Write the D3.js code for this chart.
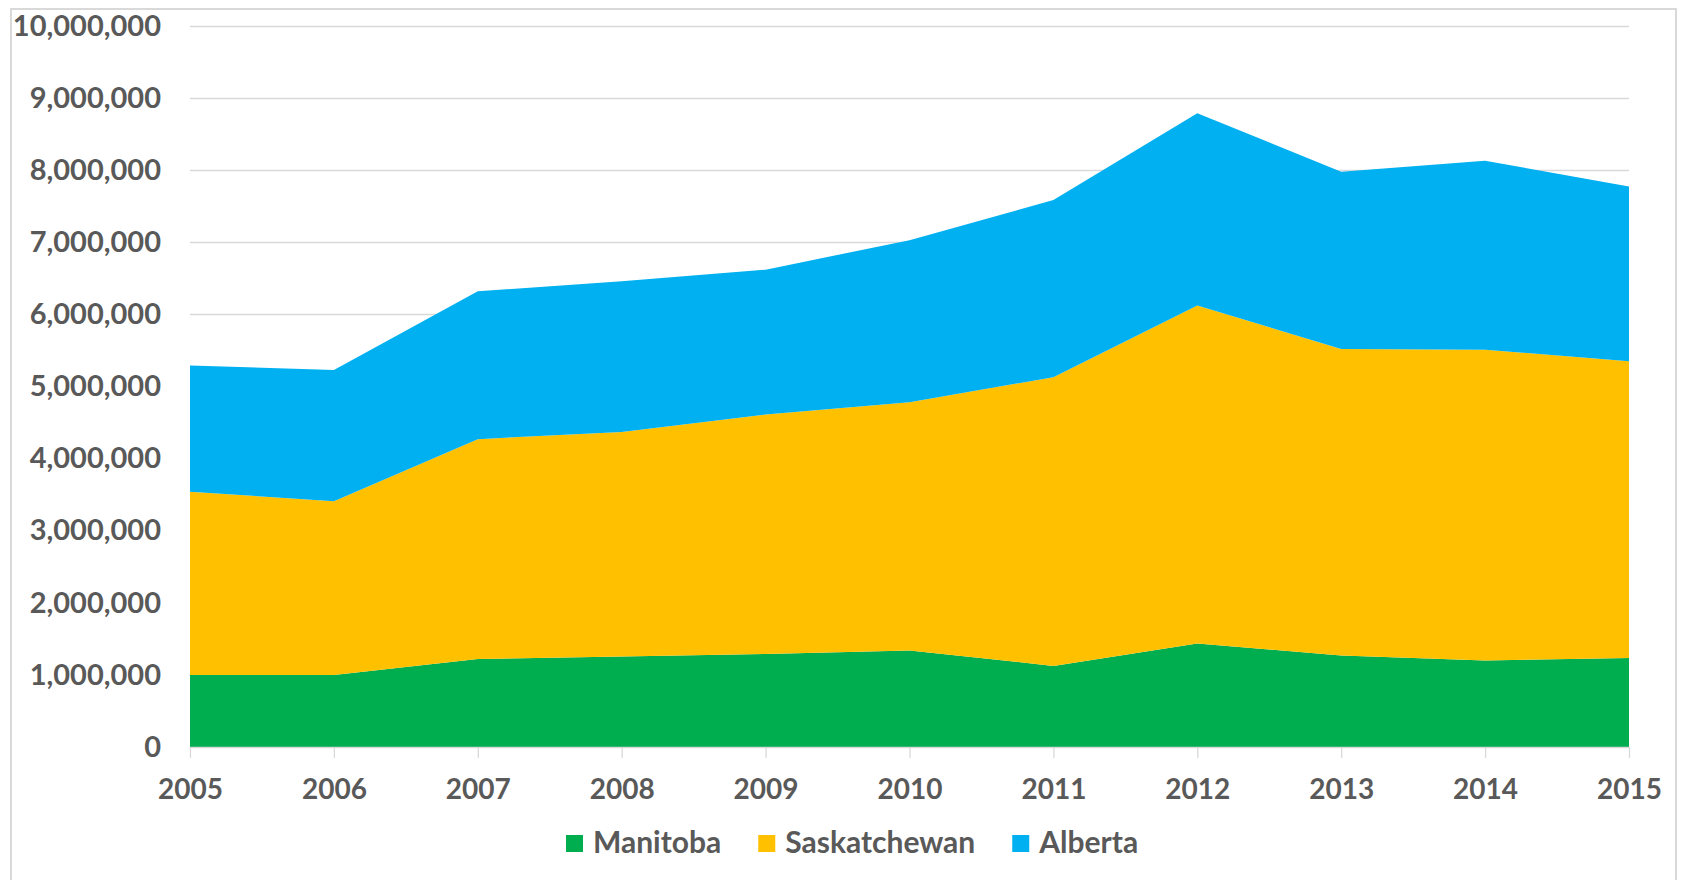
<!DOCTYPE html>
<html>
<head>
<meta charset="utf-8">
<script src="https://cdn.jsdelivr.net/npm/d3@7"></script>
<style>
  html, body { margin: 0; padding: 0; background: #fff; }
  svg { display: block; font-family: Lato, "Open Sans", sans-serif; }
</style>
</head>
<body>
<svg id="chart" width="1681" height="880"></svg>
<script>
  const years = [2005, 2006, 2007, 2008, 2009, 2010, 2011, 2012, 2013, 2014, 2015];
  const manitoba = [1000000, 1000000, 1220000, 1255000, 1290000, 1340000, 1125000, 1435000, 1270000, 1200000, 1235000];
  const saskatchewan = [2540000, 2410000, 3050000, 3115000, 3320000, 3440000, 4005000, 4690000, 4250000, 4310000, 4115000];
  const alberta = [1750000, 1820000, 2050000, 2090000, 2010000, 2250000, 2455000, 2665000, 2460000, 2620000, 2425000];
  const seriesNames = ["Manitoba", "Saskatchewan", "Alberta"];
  const seriesColors = ["#00AD4F", "#FFC000", "#00B0F0"];
  const yTicks = [0, 1000000, 2000000, 3000000, 4000000, 5000000, 6000000, 7000000, 8000000, 9000000, 10000000];

(function () {
  "use strict";

  const svg = d3.select("#chart");
  const H = 880;
  const plotLeft = 190, plotRight = 1629, plotTop = 26, plotBottom = 747;
  const textColor = "#595959";
  const gridColor = "#d9d9d9";
  const font = "Lato, 'Open Sans', sans-serif";

  // chart frame
  svg.append("path")
    .attr("d", `M11,${H} L11,9 L1676,9 L1676,${H}`)
    .attr("fill", "none")
    .attr("stroke", gridColor)
    .attr("stroke-width", 2);

  const x = d3.scaleLinear().domain([years[0], years[years.length - 1]]).range([plotLeft, plotRight]);
  const y = d3.scaleLinear().domain([0, 10000000]).range([plotBottom, plotTop]);

  const rows = years.map((yr, i) => ({
    year: yr,
    Manitoba: manitoba[i],
    Saskatchewan: saskatchewan[i],
    Alberta: alberta[i],
  }));
  const stacked = d3.stack().keys(seriesNames)(rows);

  // gridlines sit behind the areas
  svg.append("g")
    .selectAll("line")
    .data(yTicks.filter((t) => t > 0))
    .join("line")
    .attr("x1", plotLeft)
    .attr("x2", plotRight)
    .attr("y1", (d) => Math.round(y(d)) + 0.5)
    .attr("y2", (d) => Math.round(y(d)) + 0.5)
    .attr("stroke", gridColor)
    .attr("stroke-width", 1.3);

  const area = d3.area()
    .x((d) => x(d.data.year))
    .y0((d) => y(d[0]))
    .y1((d) => y(d[1]));

  svg.append("g")
    .selectAll("path")
    .data(stacked)
    .join("path")
    .attr("fill", (d, i) => seriesColors[i])
    .attr("d", area);

  // x axis
  const xAxis = d3.axisBottom(x)
    .tickValues(years)
    .tickFormat(d3.format("d"))
    .tickSizeInner(11)
    .tickSizeOuter(0)
    .tickPadding(21);
  const gx = svg.append("g")
    .attr("transform", `translate(0,${plotBottom})`)
    .call(xAxis);
  gx.select(".domain").attr("stroke", gridColor).attr("stroke-width", 1.3);
  gx.selectAll(".tick line").attr("stroke", gridColor).attr("stroke-width", 1.3);
  gx.selectAll(".tick text")
    .attr("fill", textColor)
    .attr("font-size", 28)
    .attr("font-weight", 700)
    .attr("font-family", font);

  // y axis
  const yAxis = d3.axisLeft(y)
    .tickValues(yTicks)
    .tickFormat(d3.format(","))
    .tickSize(0)
    .tickPadding(29);
  const gy = svg.append("g")
    .attr("transform", `translate(${plotLeft},0)`)
    .call(yAxis);
  gy.select(".domain").remove();
  gy.selectAll(".tick text")
    .attr("fill", textColor)
    .attr("font-size", 29)
    .attr("font-weight", 700)
    .attr("font-family", font);

  // legend
  const legend = svg.append("g").attr("transform", "translate(566,0)");
  let lx = 0;
  seriesNames.forEach((name, i) => {
    const g = legend.append("g").attr("transform", `translate(${lx},0)`);
    g.append("rect")
      .attr("x", 0).attr("y", 835)
      .attr("width", 17).attr("height", 17)
      .attr("fill", seriesColors[i]);
    const t = g.append("text")
      .attr("x", 27).attr("y", 853)
      .attr("fill", textColor)
      .attr("font-size", 30)
      .attr("font-weight", 700)
      .attr("font-family", font)
      .text(name);
    lx += 27 + t.node().getComputedTextLength() + 37;
  });
})();
</script>
</body>
</html>
